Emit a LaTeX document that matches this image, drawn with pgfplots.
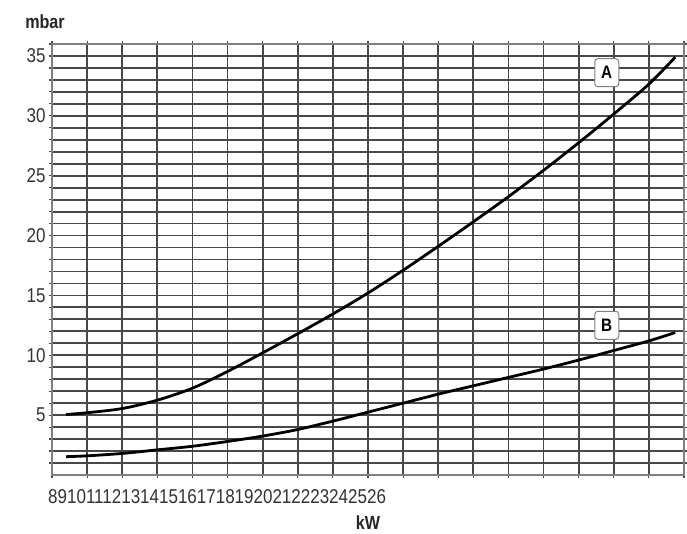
\documentclass[border=0pt]{standalone}
\usepackage{fontspec}
\setmainfont{Liberation Sans}[FakeStretch=0.85]
\usepackage{pgfplots}
\pgfplotsset{compat=1.18}
\definecolor{gridc}{HTML}{484848}

\begin{document}
\begin{tikzpicture}
% page frame: axis box is 632 x 431, picture 687 x 534
\useasboundingbox (-52pt,-59pt) rectangle (635pt,475pt);
\begin{axis}[
  at={(0pt,0pt)}, anchor=south west,
  scale only axis, width=632pt, height=431pt,
  xmin=8, xmax=26, ymin=0, ymax=36,
  xtick={8,...,26}, xticklabels={},
  ytick={5,10,...,35}, minor ytick={1,...,36},
  grid=both,
  major grid style={gridc, line width=1.8pt},
  minor grid style={gridc, line width=1.8pt},
  axis line style={gray, line width=1.6pt},
  tick align=outside, major tick length=3pt, minor tick length=3pt,
  tick style={gridc, line width=1.2pt},
  yticklabel style={font=\fontsize{20}{20}\selectfont, text=black!80},
  /pgf/number format/assume math mode=true,
  clip=false,
]
\addplot[black, line width=2.8pt, smooth] coordinates {
  (8.4,5.05) (9,5.2) (10,5.55) (11,6.25) (12,7.25) (13,8.65) (14,10.2)
  (15,11.8) (16,13.45) (17,15.2) (18,17.1) (19,19.1) (20,21.15) (21,23.25)
  (22,25.45) (23,27.75) (24,30.15) (25,32.65) (25.75,34.9)
};
\addplot[black, line width=2.8pt, smooth] coordinates {
  (8.4,1.53) (9,1.6) (10,1.8) (11,2.1) (12,2.4) (13,2.8) (14,3.25)
  (15,3.8) (16,4.5) (17,5.25) (18,6.0) (19,6.75) (20,7.45) (21,8.15)
  (22,8.85) (23,9.6) (24,10.4) (25,11.2) (25.75,11.9)
};
\node[draw=gray, fill=white, rounded corners=3pt, line width=1pt,
  font=\bfseries\fontsize{18}{18}\selectfont, minimum width=24pt,
  minimum height=28pt, inner sep=0pt] at (axis cs:23.8,33.6) {A};
\node[draw=gray, fill=white, rounded corners=3pt, line width=1pt,
  font=\bfseries\fontsize{18}{18}\selectfont, minimum width=24pt,
  minimum height=28pt, inner sep=0pt] at (axis cs:23.8,12.5) {B};
\node[anchor=west, inner sep=0pt, text=black!80, font=\fontsize{20}{20}\selectfont]
  at ([xshift=-4pt, yshift=-21.7pt]rel axis cs:0,0)
  {891011121314151617181920212223242526};
\node[font=\bfseries\fontsize{19}{19}\selectfont, text=black!85]
  at ([xshift=-7pt, yshift=22pt]rel axis cs:0,1) {mbar};
\node[font=\bfseries\fontsize{19}{19}\selectfont, text=black!85]
  at ([yshift=-48pt]rel axis cs:0.5,0) {kW};
\end{axis}
\end{tikzpicture}
\end{document}
